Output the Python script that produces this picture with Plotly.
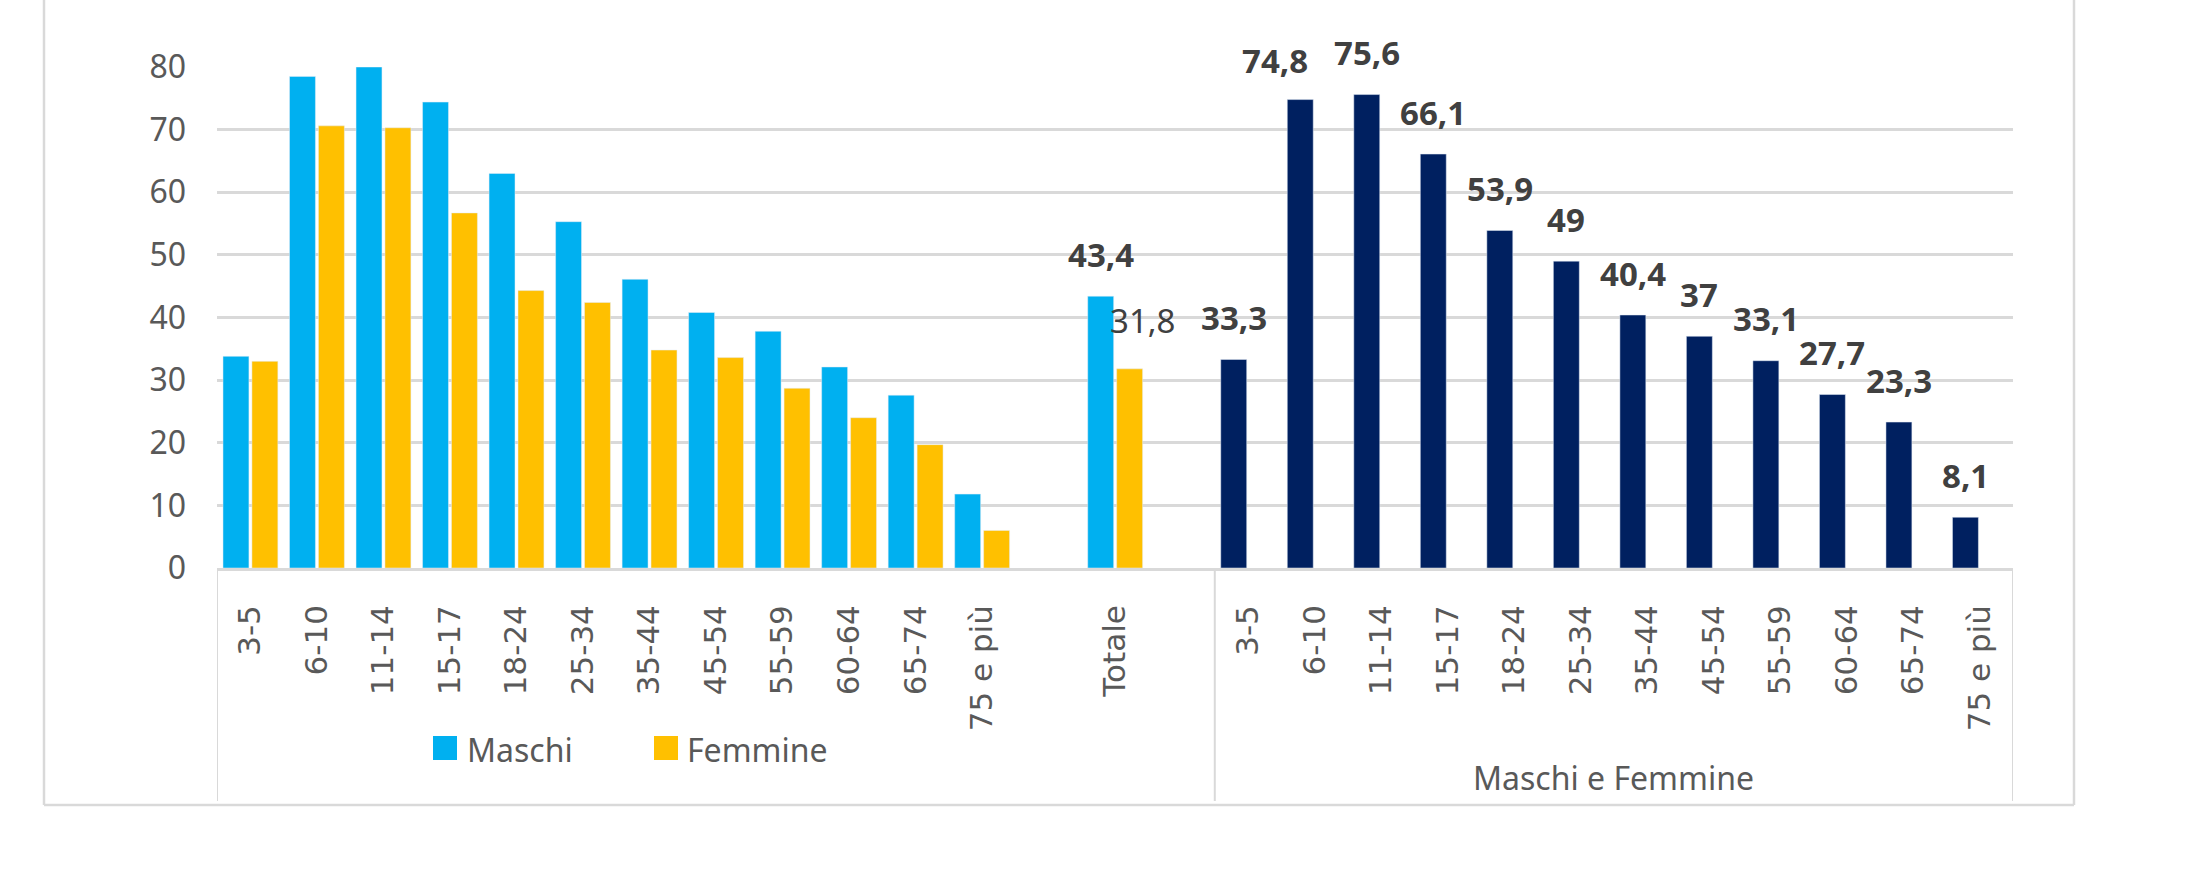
import plotly.graph_objects as go

# ---------------- data ----------------
ages = ["3-5", "6-10", "11-14", "15-17", "18-24", "25-34", "35-44",
        "45-54", "55-59", "60-64", "65-74", "75 e più"]
maschi = [33.8, 78.5, 80.0, 74.4, 63.0, 55.3, 46.1, 40.8, 37.8, 32.1, 27.6, 11.8]
femmine = [33.0, 70.6, 70.3, 56.7, 44.3, 42.4, 34.8, 33.6, 28.7, 24.0, 19.7, 6.0]
totale_label = "Totale"
totale_maschi = 43.4
totale_femmine = 31.8
maschi_e_femmine = [33.3, 74.8, 75.6, 66.1, 53.9, 49, 40.4, 37, 33.1, 27.7, 23.3, 8.1]
group_label = "Maschi e Femmine"
series_names = ["Maschi", "Femmine"]

# ---------------- layout constants ----------------
W, H = 2197, 878
ML, MR, MT, MB = 217, 184, 67, 310
PW, PH = W - ML - MR, H - MT - MB

C_M = "#00B0F0"
C_F = "#FFC000"
C_MF = "#002060"
GRID = "#D9D9D9"
TXT = "#595959"
LBL = "#404040"
FONT = "Noto Sans"

# label nudges (pixels) as placed in the original to avoid overlaps
label_xshift = {1: -25}
label_yshift_extra = {1: -3}


def pxx(px):
    return (px - ML) / PW


def pxy(py):
    return (H - MB - py) / PH


def fmt(v):
    return f"{v:g}".replace(".", ",")


n = len(ages)
left_x = list(range(n))
tot_x = n + 1
right_x = [n + 3 + i for i in range(n)]
x_max = right_x[-1] + 0.5

BW = 0.39
OFF_A = -0.41
OFF_B = 0.025

fig = go.Figure()
fig.add_trace(go.Bar(x=left_x + [tot_x], y=maschi + [totale_maschi], name=series_names[0],
                     marker_color=C_M, width=BW, offset=OFF_A, showlegend=False))
fig.add_trace(go.Bar(x=left_x + [tot_x], y=femmine + [totale_femmine], name=series_names[1],
                     marker_color=C_F, width=BW, offset=OFF_B, showlegend=False))
fig.add_trace(go.Bar(x=right_x, y=maschi_e_femmine, name=group_label,
                     marker_color=C_MF, width=BW, offset=OFF_A, showlegend=False))

annotations = []
# labels for the combined series
for i, (xv, v) in enumerate(zip(right_x, maschi_e_femmine)):
    annotations.append(dict(x=xv + OFF_A + BW / 2, y=v, xref="x", yref="y",
                            text=f"<b>{fmt(v)}</b>", showarrow=False,
                            yanchor="middle", yshift=42 + label_yshift_extra.get(i, 0),
                            xshift=label_xshift.get(i, 0),
                            font=dict(family=FONT, size=33, color=LBL)))
# Totale labels
annotations.append(dict(x=tot_x + OFF_A + BW / 2, y=totale_maschi, xref="x", yref="y",
                        text=f"<b>{fmt(totale_maschi)}</b>", showarrow=False,
                        yanchor="middle", yshift=42,
                        font=dict(family=FONT, size=33, color=LBL)))
annotations.append(dict(x=tot_x + OFF_B + BW / 2, y=totale_femmine, xref="x", yref="y",
                        text=fmt(totale_femmine), showarrow=False,
                        yanchor="middle", yshift=48, xshift=13,
                        font=dict(family=FONT, size=33, color=LBL)))
# group label
annotations.append(dict(x=(right_x[0] + right_x[-1]) / 2, y=pxy(777), xref="x", yref="paper",
                        text=group_label, showarrow=False, yanchor="middle",
                        font=dict(family=FONT, size=32, color=TXT)))
# manual legend texts
annotations.append(dict(x=pxx(465), y=pxy(749), xref="paper", yref="paper",
                        text=series_names[0], showarrow=False, xanchor="left", yanchor="middle",
                        font=dict(family=FONT, size=32, color=TXT)))
annotations.append(dict(x=pxx(685), y=pxy(749), xref="paper", yref="paper",
                        text=series_names[1], showarrow=False, xanchor="left", yanchor="middle",
                        font=dict(family=FONT, size=32, color=TXT)))

shapes = []
# legend squares
shapes.append(dict(type="rect", xref="paper", yref="paper",
                   x0=pxx(433), x1=pxx(457), y0=pxy(760), y1=pxy(736),
                   fillcolor=C_M, line=dict(width=0)))
shapes.append(dict(type="rect", xref="paper", yref="paper",
                   x0=pxx(654), x1=pxx(678), y0=pxy(760), y1=pxy(736),
                   fillcolor=C_F, line=dict(width=0)))
# category group dividers
for xv in [-0.5, right_x[0] - 0.5, x_max]:
    shapes.append(dict(type="line", xref="x", yref="paper", x0=xv, x1=xv,
                       y0=0, y1=pxy(801), line=dict(color=GRID, width=2)))
# outer chart border
shapes.append(dict(type="line", xref="paper", yref="paper", x0=pxx(44), x1=pxx(44),
                   y0=pxy(-20), y1=pxy(805), line=dict(color=GRID, width=2.5)))
shapes.append(dict(type="line", xref="paper", yref="paper", x0=pxx(2074), x1=pxx(2074),
                   y0=pxy(-20), y1=pxy(805), line=dict(color=GRID, width=2.5)))
shapes.append(dict(type="line", xref="paper", yref="paper", x0=pxx(44), x1=pxx(2074),
                   y0=pxy(805), y1=pxy(805), line=dict(color=GRID, width=2.5)))

fig.update_layout(
    width=W, height=H,
    margin=dict(l=ML, r=MR, t=MT, b=MB, pad=0),
    plot_bgcolor="white", paper_bgcolor="white",
    showlegend=False,
    annotations=annotations,
    shapes=shapes,
    bargap=0.17,
)
fig.update_xaxes(
    range=[-0.5, x_max], tickmode="array",
    tickvals=left_x + [tot_x] + right_x,
    ticktext=ages + [totale_label] + ages,
    tickangle=-90, ticks="", showgrid=False, zeroline=False,
    showline=True, linecolor=GRID, linewidth=2.5,
    tickfont=dict(family="DejaVu Sans", size=31, color=TXT),
    ticklabelstandoff=22,
)
fig.update_yaxes(
    range=[0, 80], dtick=10, tick0=0,
    showgrid=True, gridcolor=GRID, gridwidth=2.5,
    zeroline=False, showline=False, ticks="",
    tickfont=dict(family=FONT, size=32, color=TXT),
    ticklabelstandoff=30,
)

fig.write_html("out.html", config={"displayModeBar": False},
               post_script="document.body.style.margin='0';document.body.style.overflow='hidden';")
